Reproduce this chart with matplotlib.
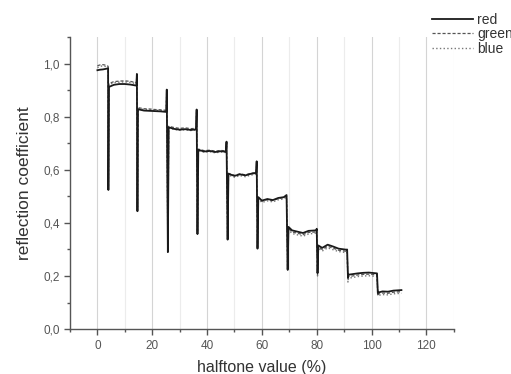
import matplotlib
matplotlib.use('Agg')
import matplotlib.pyplot as plt
from matplotlib.ticker import MultipleLocator, FuncFormatter

# halftone value (%) sample positions, shared by the three channels
halftone = [
    0, 1, 2, 3, 3.9, 4.0,
    4.2, 6, 8, 10, 12, 14.2, 14.4, 14.6,
    14.8, 17, 19, 21, 23, 25.1, 25.3, 25.7,
    26.0, 28, 30, 32, 34, 36.0, 36.2, 36.5,
    36.8, 39, 41, 43, 45, 46.9, 47.1, 47.5,
    47.8, 50, 52, 54, 56, 57.9, 58.1, 58.4,
    58.7, 60, 62, 64, 66, 68, 69.0, 69.4,
    69.7, 71, 73, 75, 77, 79.9, 80.0, 80.3,
    80.6, 82, 84, 86, 88, 90.9, 91.1, 91.4,
    91.6, 93, 95, 97, 99, 101.9, 102.0, 102.3,
    102.5, 104, 106, 108, 109.5, 110.9,
]

red = [
    0.975, 0.977, 0.978, 0.980, 0.982, 0.524,
    0.912, 0.920, 0.923, 0.923, 0.921, 0.917, 0.961, 0.444,
    0.828, 0.823, 0.822, 0.821, 0.820, 0.818, 0.902, 0.290,
    0.760, 0.754, 0.751, 0.753, 0.750, 0.752, 0.827, 0.358,
    0.675, 0.669, 0.671, 0.667, 0.670, 0.668, 0.706, 0.337,
    0.585, 0.577, 0.583, 0.579, 0.585, 0.588, 0.632, 0.303,
    0.497, 0.484, 0.490, 0.486, 0.494, 0.497, 0.505, 0.224,
    0.385, 0.372, 0.367, 0.362, 0.370, 0.372, 0.378, 0.211,
    0.315, 0.306, 0.318, 0.311, 0.303, 0.299, 0.300, 0.195,
    0.205, 0.207, 0.210, 0.212, 0.213, 0.210, 0.210, 0.135,
    0.138, 0.142, 0.141, 0.145, 0.146, 0.147,
]

green = [
    0.992, 0.995, 0.996, 0.994, 0.990, 0.530,
    0.925, 0.932, 0.934, 0.935, 0.933, 0.928, 0.955, 0.450,
    0.834, 0.830, 0.829, 0.827, 0.826, 0.824, 0.895, 0.300,
    0.764, 0.759, 0.756, 0.758, 0.755, 0.756, 0.820, 0.365,
    0.678, 0.672, 0.674, 0.670, 0.673, 0.671, 0.700, 0.345,
    0.587, 0.579, 0.585, 0.581, 0.587, 0.590, 0.625, 0.310,
    0.495, 0.482, 0.488, 0.484, 0.492, 0.495, 0.500, 0.230,
    0.380, 0.366, 0.361, 0.356, 0.364, 0.366, 0.372, 0.205,
    0.310, 0.300, 0.312, 0.305, 0.297, 0.293, 0.295, 0.185,
    0.198, 0.200, 0.204, 0.206, 0.207, 0.204, 0.204, 0.130,
    0.132, 0.136, 0.135, 0.139, 0.140, 0.141,
]

blue = [
    0.985, 0.990, 0.991, 0.989, 0.986, 0.528,
    0.920, 0.928, 0.930, 0.931, 0.929, 0.924, 0.958, 0.448,
    0.831, 0.827, 0.826, 0.824, 0.823, 0.821, 0.898, 0.295,
    0.758, 0.752, 0.749, 0.751, 0.748, 0.750, 0.823, 0.360,
    0.672, 0.666, 0.668, 0.664, 0.667, 0.665, 0.702, 0.340,
    0.580, 0.572, 0.578, 0.574, 0.580, 0.583, 0.628, 0.305,
    0.490, 0.477, 0.483, 0.479, 0.487, 0.490, 0.498, 0.218,
    0.375, 0.360, 0.355, 0.350, 0.358, 0.362, 0.368, 0.200,
    0.305, 0.294, 0.306, 0.299, 0.292, 0.288, 0.290, 0.177,
    0.192, 0.194, 0.198, 0.200, 0.201, 0.198, 0.198, 0.125,
    0.127, 0.130, 0.129, 0.133, 0.134, 0.135,
]

plt.rcParams['font.family'] = ['Liberation Sans', 'DejaVu Sans']

fig = plt.figure(figsize=(5.11, 3.74), dpi=100)
ax = fig.add_axes([0.137, 0.120, 0.751, 0.781])

ax.plot(halftone, blue, color='#777777', linestyle=':', linewidth=1.0, label='blue')
ax.plot(halftone, green, color='#555555', linestyle='--', linewidth=0.9, dashes=(2.5, 1.5), label='green')
ax.plot(halftone, red, color='#1a1a1a', linestyle='-', linewidth=1.3, label='red')

ax.set_xlim(-10, 130)
ax.set_ylim(0, 1.1)
ax.xaxis.set_major_locator(MultipleLocator(20))
ax.xaxis.set_minor_locator(MultipleLocator(10))
ax.yaxis.set_major_locator(MultipleLocator(0.2))
ax.yaxis.set_minor_locator(MultipleLocator(0.1))
ax.yaxis.set_major_formatter(FuncFormatter(lambda v, p: f'{v:.1f}'.replace('.', ',')))

ax.grid(True, which='major', axis='x', color='#d4d4d4', linewidth=0.8)
ax.grid(True, which='minor', axis='x', color='#ececec', linewidth=0.8)
ax.set_axisbelow(True)

for s in ['top', 'right']:
    ax.spines[s].set_visible(False)
for s in ['left', 'bottom']:
    ax.spines[s].set_color('#555555')
    ax.spines[s].set_linewidth(1.0)

ax.tick_params(which='major', direction='out', length=4, width=1.0, color='#555555',
               labelsize=8.5, labelcolor='#555555')
ax.tick_params(which='minor', direction='out', length=2.5, width=1.0, color='#555555')

ax.set_xlabel('halftone value (%)', fontsize=11.5, color='#333333', labelpad=6)
ax.set_ylabel('reflection coefficient', fontsize=12.5, color='#333333', labelpad=8)

handles, labels = ax.get_legend_handles_labels()
order = [2, 1, 0]
fig.legend([handles[i] for i in order], [labels[i] for i in order],
           loc='upper left', bbox_to_anchor=(0.82, 1.0), frameon=False,
           fontsize=10, handlelength=3.0, handletextpad=0.3, labelspacing=0.05,
           labelcolor='#333333')

fig.savefig('out.png', dpi=100)
